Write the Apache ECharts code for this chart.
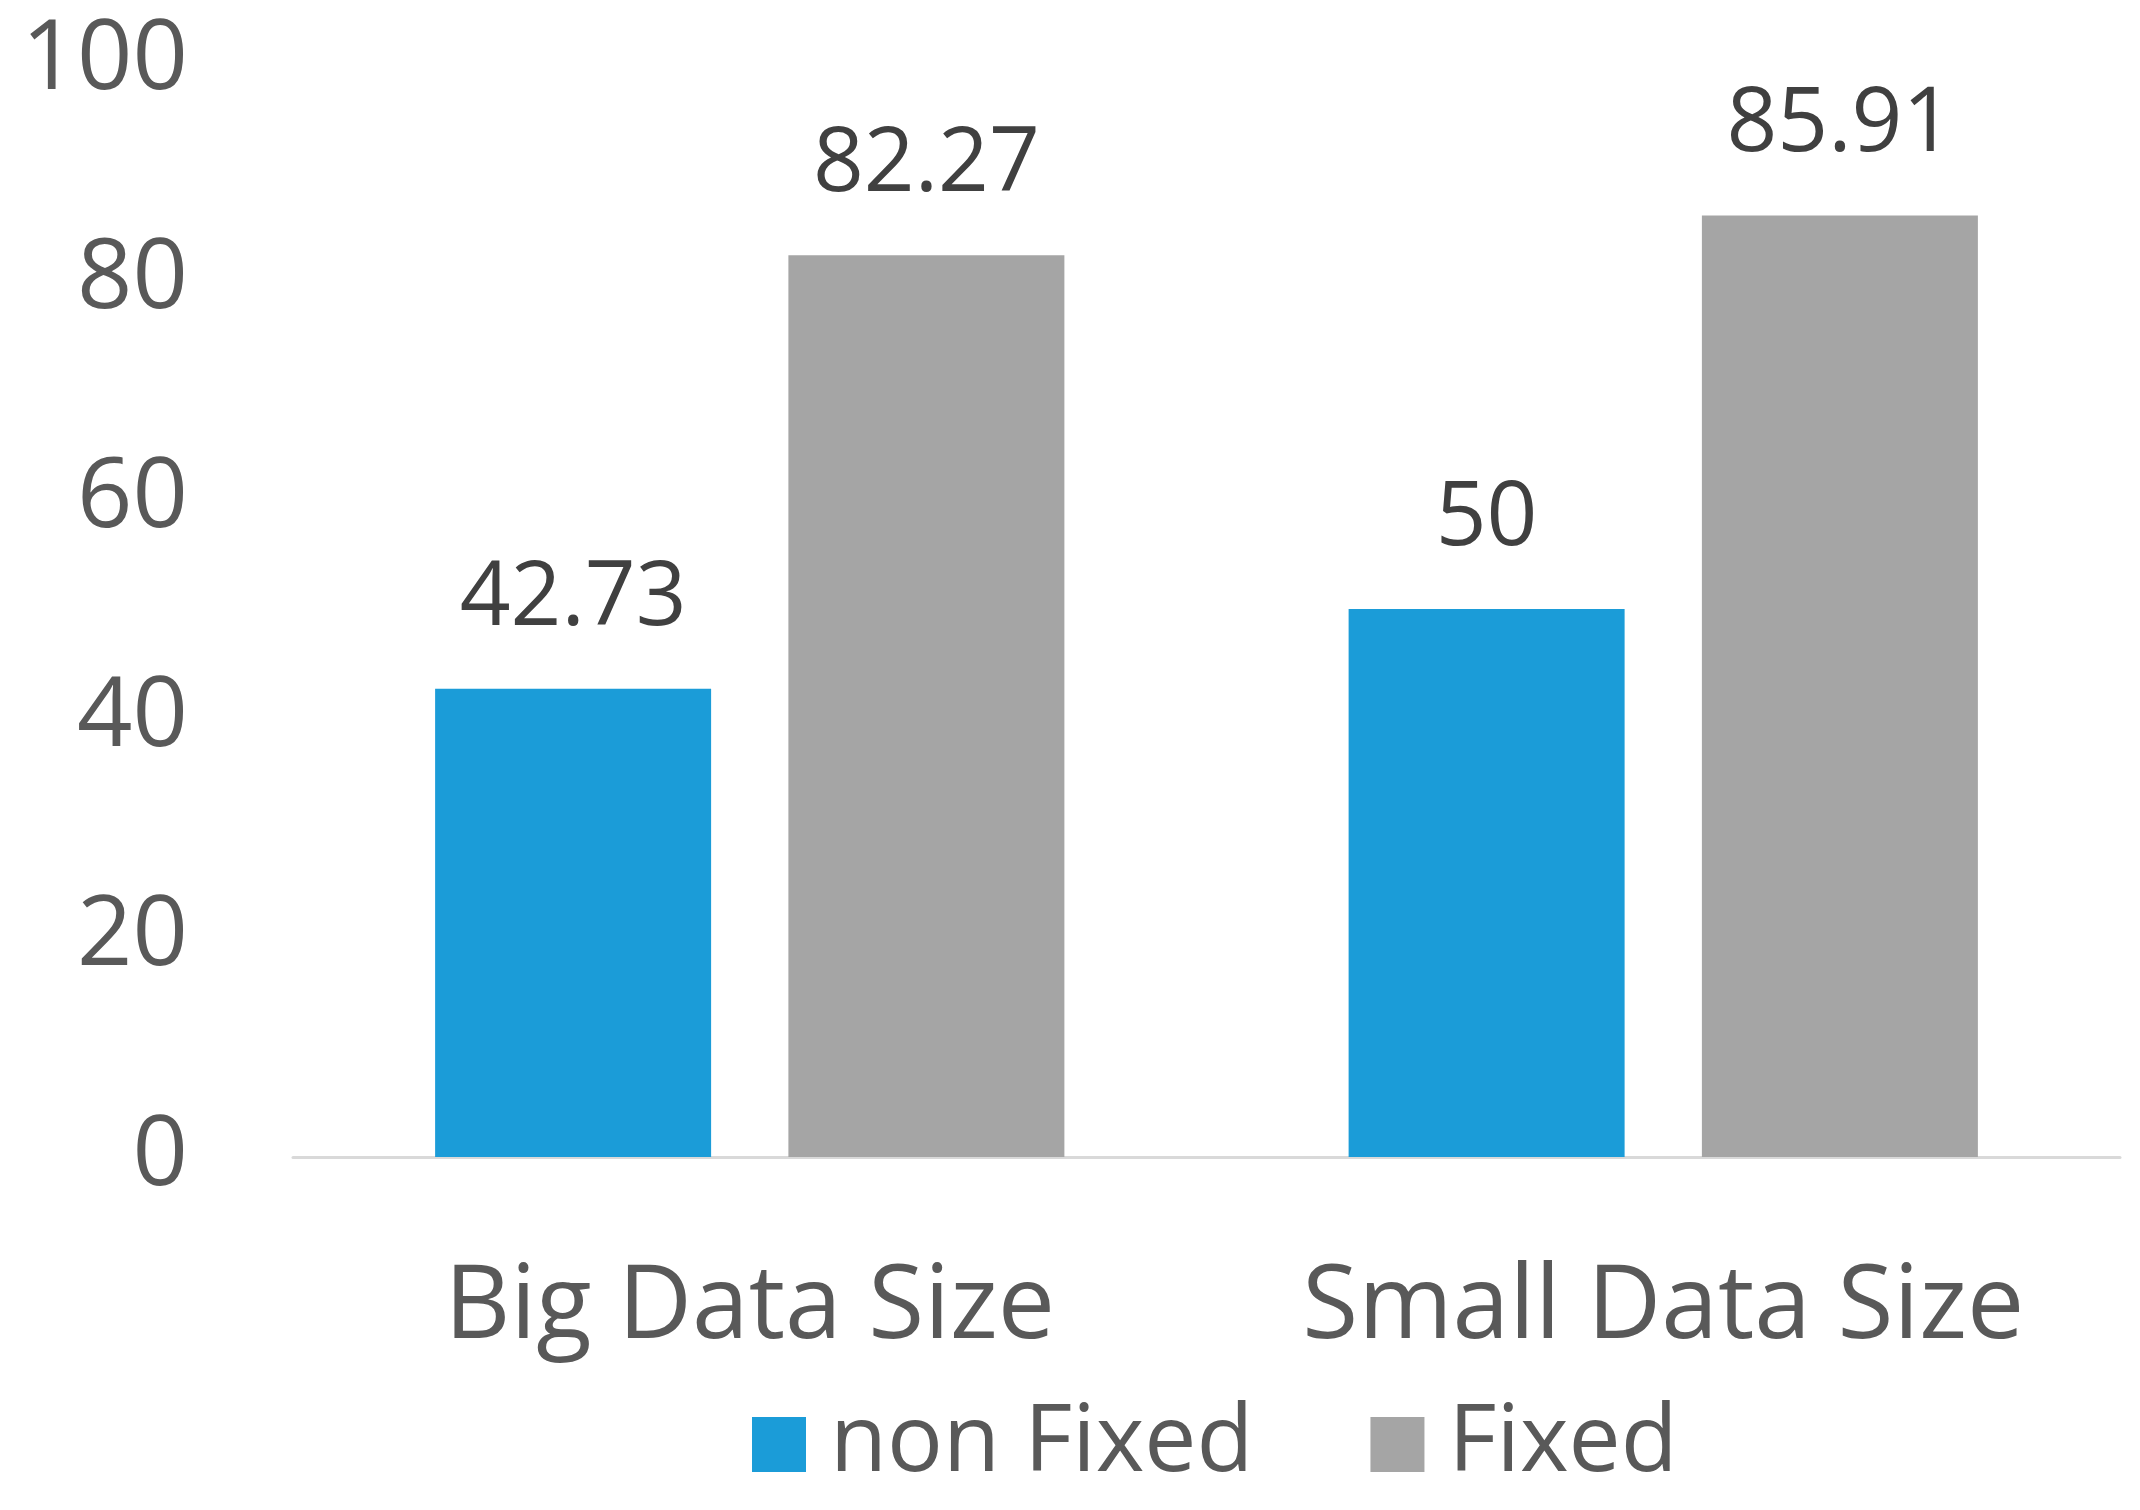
<!DOCTYPE html>
<html>
<head>
<meta charset="utf-8">
<script src="https://cdn.jsdelivr.net/npm/echarts@6/dist/echarts.min.js"></script>
<style>
html,body{margin:0;padding:0;background:#fff;}
#chart{width:2140px;height:1510px;}
</style>
</head>
<body>
<div id="chart"></div>
<script>
const categories = ['Big Data Size', 'Small Data Size'];
const seriesNames = ['non Fixed', 'Fixed'];
const nonFixedValues = [42.73, 50];
const fixedValues = [82.27, 85.91];
const yTicks = [0, 20, 40, 60, 80, 100];

const FONT = '"Open Sans", "Noto Sans", sans-serif';
const chart = echarts.init(document.getElementById('chart'), null, {renderer: 'canvas'});

const labelStyle = {
  show: true,
  position: 'top',
  distance: 45,
  color: '#404040',
  fontFamily: FONT,
  fontSize: 89
};

chart.setOption({
  animation: false,
  backgroundColor: '#ffffff',
  grid: {left: 293, right: 20, top: 61, bottom: 353, containLabel: false},
  legend: {
    data: seriesNames,
    left: 747,
    top: 1393,
    itemWidth: 54,
    itemHeight: 55,
    itemGap: 117,
    icon: 'rect',
    textStyle: {color: '#595959', fontFamily: FONT, fontSize: 93, padding: [0, 0, 0, 19]}
  },
  xAxis: {
    type: 'category',
    data: categories,
    axisLine: {show: true, lineStyle: {color: '#d9d9d9', width: 3}},
    axisTick: {show: false},
    axisLabel: {color: '#595959', fontFamily: FONT, fontSize: 102, margin: 101, interval: 0}
  },
  yAxis: {
    type: 'value',
    min: yTicks[0],
    max: yTicks[yTicks.length - 1],
    interval: yTicks[1] - yTicks[0],
    axisLine: {show: false},
    axisTick: {show: false},
    splitLine: {show: false},
    axisLabel: {color: '#595959', fontFamily: FONT, fontSize: 97, margin: 105}
  },
  series: [
    {
      name: seriesNames[0],
      type: 'bar',
      data: nonFixedValues,
      barWidth: 276,
      barGap: '28%',
      itemStyle: {color: '#1b9cd8'},
      label: labelStyle
    },
    {
      name: seriesNames[1],
      type: 'bar',
      data: fixedValues,
      barWidth: 276,
      barGap: '28%',
      itemStyle: {color: '#a5a5a5'},
      label: labelStyle
    }
  ]
});
</script>
</body>
</html>
